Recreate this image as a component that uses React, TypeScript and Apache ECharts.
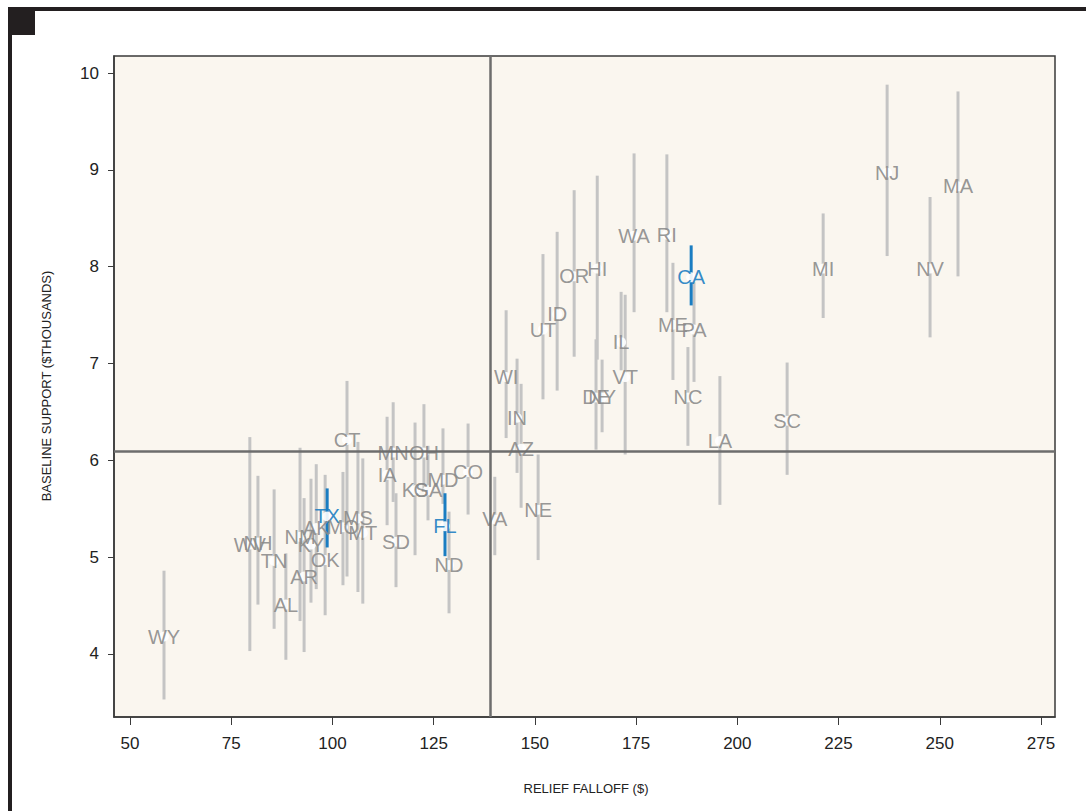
import React, { useEffect, useRef } from "react";
import * as echarts from "echarts";

const states = [
  "WY", "WV", "NH", "TN", "AL", "NM", "AR", "KY", "AK", "OK",
  "TX", "MO", "CT", "MS", "MT", "IA", "MN", "SD", "KS", "OH",
  "GA", "MD", "FL", "ND", "CO", "VA", "WI", "IN", "AZ", "NE",
  "UT", "ID", "OR", "DE", "HI", "NY", "IL", "VT", "WA", "RI",
  "ME", "NC", "CA", "PA", "LA", "SC", "MI", "NJ", "NV", "MA",
];
const falloff = [
  58.4, 79.6, 81.6, 85.6, 88.5, 92.0, 93.0, 94.7, 96.0, 98.2,
  98.7, 102.6, 103.6, 106.3, 107.5, 113.5, 115.0, 115.7, 120.4, 122.6,
  123.6, 127.3, 127.8, 128.8, 133.5, 140.1, 142.9, 145.6, 146.6, 150.8,
  152.0, 155.5, 159.7, 165.1, 165.4, 166.6, 171.3, 172.3, 174.5, 182.6,
  184.1, 187.8, 188.6, 189.3, 195.7, 212.3, 221.2, 237.0, 247.6, 254.5,
];
const support = [
  4.18, 5.13, 5.15, 4.96, 4.51, 5.21, 4.80, 5.13, 5.30, 4.97,
  5.42, 5.31, 6.21, 5.40, 5.25, 5.85, 6.08, 5.16, 5.69, 6.08,
  5.69, 5.80, 5.32, 4.92, 5.88, 5.39, 6.86, 6.44, 6.12, 5.49,
  7.35, 7.51, 7.90, 6.65, 7.98, 6.65, 7.22, 6.86, 8.32, 8.33,
  7.40, 6.65, 7.89, 7.35, 6.20, 6.41, 7.98, 8.97, 7.98, 8.83,
];
const supportLow = [
  3.53, 4.03, 4.51, 4.26, 3.94, 4.34, 4.02, 4.53, 4.67, 4.40,
  5.10, 4.71, 4.80, 4.64, 4.52, 5.33, 5.57, 4.69, 5.02, 5.69,
  5.38, 5.55, 5.01, 4.42, 5.44, 5.02, 6.23, 5.87, 5.51, 4.97,
  6.63, 6.72, 7.07, 6.11, 7.04, 6.29, 6.93, 6.06, 7.53, 7.53,
  6.83, 6.15, 7.60, 6.81, 5.54, 5.85, 7.47, 8.11, 7.27, 7.90,
];
const supportHigh = [
  4.86, 6.24, 5.84, 5.70, 5.04, 6.13, 5.61, 5.81, 5.96, 5.85,
  5.71, 5.88, 6.82, 6.19, 6.02, 6.45, 6.60, 5.66, 6.39, 6.58,
  6.15, 6.33, 5.66, 5.47, 6.38, 5.83, 7.55, 7.05, 6.79, 6.06,
  8.13, 8.36, 8.79, 7.25, 8.94, 7.04, 7.74, 7.71, 9.17, 9.16,
  8.04, 7.17, 8.22, 7.84, 6.87, 7.01, 8.55, 9.88, 8.72, 9.81,
];
const highlighted = ["TX", "FL", "CA"];
const xTicks = [50, 75, 100, 125, 150, 175, 200, 225, 250, 275];
const yTicks = [4, 5, 6, 7, 8, 9, 10];
const refFalloff = 138.9;
const refSupport = 6.09;
const xTitle = "RELIEF FALLOFF ($)";
const yTitle = "BASELINE SUPPORT ($THOUSANDS)";

const BLUE = "#1a7dc2";
const GRAY_BAR = "#c4c4c4";
const GRAY_TEXT = "#8a8a8a";
const FONT = "'Liberation Sans', Arial, Helvetica, sans-serif";

export default function App() {
  const ref = useRef<HTMLDivElement>(null);

  useEffect(() => {
    document.body.style.margin = "0";
    const chart = echarts.init(ref.current!, null, { renderer: "svg" });

    const barData = states.map((s, i) => [
      falloff[i],
      supportLow[i],
      supportHigh[i],
      highlighted.includes(s) ? 1 : 0,
    ]);

    const pointData = states.map((s, i) => {
      const hl = highlighted.includes(s);
      return {
        name: s,
        value: [falloff[i], support[i]],
        label: { color: hl ? BLUE : GRAY_TEXT },
      };
    });

    const option: any = {
      animation: false,
      textStyle: { fontFamily: FONT },
      grid: {
        left: 114,
        top: 56,
        right: 31,
        bottom: 94,
        show: true,
        backgroundColor: "#faf6ef",
        borderColor: "#3a3a3a",
        borderWidth: 1.5,
      },
      xAxis: {
        type: "value",
        min: 46.05,
        max: 278.46,
        splitLine: { show: false },
        axisLine: { show: true, onZero: false, lineStyle: { color: "#3a3a3a", width: 1.5 } },
        axisTick: {
          show: true,
          customValues: xTicks,
          length: 8,
          lineStyle: { color: "#3a3a3a", width: 1 },
        },
        axisLabel: {
          customValues: xTicks,
          fontSize: 17,
          color: "#222",
          margin: 18,
          fontFamily: FONT,
        },
      },
      yAxis: {
        type: "value",
        min: 3.349,
        max: 10.176,
        splitLine: { show: false },
        axisLine: { show: true, onZero: false, lineStyle: { color: "#3a3a3a", width: 1.5 } },
        axisTick: {
          show: true,
          customValues: yTicks,
          length: 6,
          lineStyle: { color: "#3a3a3a", width: 1 },
        },
        axisLabel: {
          customValues: yTicks,
          fontSize: 17,
          color: "#222",
          margin: 15,
          fontFamily: FONT,
        },
      },
      graphic: [
        { type: "rect", shape: { x: 8, y: 7, width: 1078, height: 4 }, style: { fill: "#231f20" } },
        { type: "rect", shape: { x: 8, y: 7, width: 4, height: 804 }, style: { fill: "#231f20" } },
        { type: "rect", shape: { x: 8, y: 7, width: 27, height: 28 }, style: { fill: "#231f20" } },
        {
          type: "text",
          x: 586,
          y: 788,
          style: {
            text: xTitle,
            fontSize: 13,
            fill: "#222",
            fontFamily: FONT,
            textAlign: "center",
            textVerticalAlign: "middle",
          },
        },
        {
          type: "text",
          x: 46,
          y: 386,
          rotation: Math.PI / 2,
          style: {
            text: yTitle,
            fontSize: 13,
            fill: "#222",
            fontFamily: FONT,
            textAlign: "center",
            textVerticalAlign: "middle",
          },
        },
      ],
      series: [
        {
          type: "custom",
          z: 1,
          silent: true,
          data: barData,
          encode: { x: 0, y: [1, 2] },
          renderItem: (_params: any, api: any) => {
            const lo = api.coord([api.value(0), api.value(1)]);
            const hi = api.coord([api.value(0), api.value(2)]);
            const hl = api.value(3) === 1;
            return {
              type: "line",
              z2: hl ? 10 : 0,
              shape: { x1: lo[0], y1: lo[1], x2: hi[0], y2: hi[1] },
              style: { stroke: hl ? BLUE : GRAY_BAR, lineWidth: 3 },
            };
          },
        },
        {
          type: "line",
          z: 2,
          data: [],
          silent: true,
          markLine: {
            silent: true,
            symbol: ["none", "none"],
            label: { show: false },
            lineStyle: { color: "#6d6d6d", width: 2.5, type: "solid" },
            data: [{ xAxis: refFalloff }, { yAxis: refSupport }],
          },
        },
        {
          type: "scatter",
          z: 3,
          silent: true,
          symbol: "circle",
          symbolSize: 10,
          itemStyle: { color: "#ffffff", opacity: 0.9 },
          data: pointData,
          label: {
            show: true,
            position: "inside",
            formatter: (p: any) => p.name,
            fontSize: 20,
            fontFamily: FONT,
          },
        },
      ],
    };

    chart.setOption(option);
    return () => chart.dispose();
  }, []);

  return <div ref={ref} style={{ width: 1086, height: 811 }} />;
}
